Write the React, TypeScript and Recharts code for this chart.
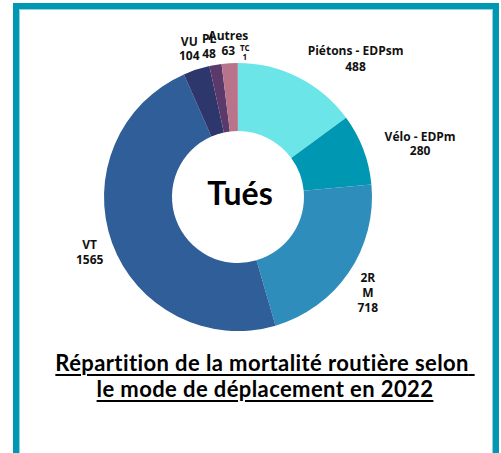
import React from 'react';
import { PieChart, Pie, Cell, Label } from 'recharts';

// modes de déplacement, dans l'ordre des aiguilles d'une montre depuis midi
const categories = ['Piétons - EDPsm', 'Vélo - EDPm', '2RM', 'VT', 'VU', 'PL', 'Autres', 'TC'];
const killed = [488, 280, 718, 1565, 104, 48, 63, 1];
const colors = ['#6ce5e8', '#0097b2', '#2e8dbb', '#2f5e98', '#2e376b', '#5b3a6b', '#b8748a', '#b8748a'];

// label placement (radius beyond the ring, shift), per slice
const labelPos = [
  { r: 22, dx: 47, lh: 16 },
  { r: 18, dx: 40, lh: 14 },
  { r: 35, dx: -10, lh: 15 },
  { r: 26, dx: 2, lh: 15 },
  { r: 23, dx: 0, lh: 14 },
  { r: 20, dx: -3, lh: 15 },
  { r: 21, dx: 0, lh: 15 },
  { r: 12, dx: 7, lh: 9 },
];
const lineBreaks: Record<string, string[]> = { '2RM': ['2R', 'M'] };

const data = categories.map((name, i) => ({ name, value: killed[i] }));

const PIE_CX = 238;
const PIE_CY = 197;
const RAD = Math.PI / 180;

const renderLabel = (props: any) => {
  const { cx, cy, midAngle, outerRadius, index } = props;
  const p = labelPos[index];
  const r = outerRadius + p.r;
  const x = cx + r * Math.cos(-midAngle * RAD) + p.dx;
  const y = cy + r * Math.sin(-midAngle * RAD);
  const name = categories[index];
  const lines = [...(lineBreaks[name] || [name]), String(killed[index])];
  const small = name === 'TC';
  const start = y - ((lines.length - 1) * p.lh) / 2;
  return (
    <text
      key={`lbl-${index}`}
      x={x}
      y={start}
      textAnchor="middle"
      dominantBaseline="central"
      fill="#111"
      style={{ fontFamily: '"Open Sans"', fontWeight: 700, fontSize: small ? 8 : 12 }}
    >
      {lines.map((t, j) => (
        <tspan key={j} x={x} dy={j === 0 ? 0 : p.lh}>
          {t}
        </tspan>
      ))}
    </text>
  );
};

export default function App() {
  return (
    <div style={{ position: 'absolute', left: 0, top: 0, width: 501, height: 453, background: '#fff', overflow: 'hidden' }}>
      <div
        style={{
          position: 'absolute',
          left: 13,
          top: 3,
          width: 486,
          height: 460,
          boxSizing: 'border-box',
          border: '6px solid #0097b2',
          boxShadow: 'inset 0 0 0 1px #8fd3e3',
        }}
      />
      <div style={{ position: 'absolute', left: 0, top: 0 }}>
        <PieChart width={501} height={453} margin={{ top: 0, right: 0, bottom: 0, left: 0 }}>
          <Pie
            data={data}
            dataKey="value"
            nameKey="name"
            cx={PIE_CX}
            cy={PIE_CY}
            innerRadius={66}
            outerRadius={134}
            startAngle={90}
            endAngle={-270}
            stroke="none"
            label={renderLabel}
            labelLine={false}
            isAnimationActive={false}
          >
            {data.map((d, i) => (
              <Cell key={d.name} fill={colors[i]} />
            ))}
            <Label
              position="center"
              content={() => (
                <text
                  x={PIE_CX + 2}
                  y={PIE_CY - 5}
                  textAnchor="middle"
                  dominantBaseline="central"
                  fill="#000"
                  style={{ fontFamily: 'Lato', fontWeight: 700, fontSize: 32 }}
                >
                  Tués
                </text>
              )}
            />
          </Pie>
        </PieChart>
      </div>
      <div
        style={{
          position: 'absolute',
          left: 0,
          width: 530,
          top: 350,
          textAlign: 'center',
          fontFamily: 'Lato',
          fontWeight: 700,
          fontSize: 22,
          letterSpacing: '0.4px',
          lineHeight: '26px',
          color: '#000',
          textDecoration: 'underline',
          textDecorationThickness: '2px',
          textUnderlineOffset: '3px',
        }}
      >
        Répartition de la mortalité routière selon{'\u00a0'}
        <br />
        le mode de déplacement en 2022
      </div>
    </div>
  );
}
